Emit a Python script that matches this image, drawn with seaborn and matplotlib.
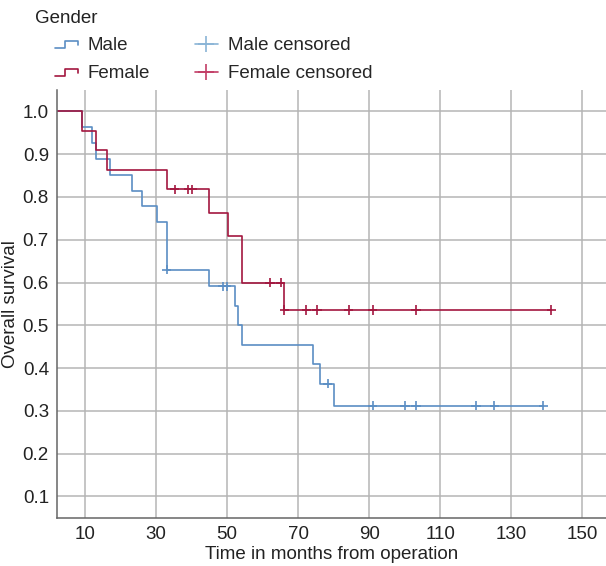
import numpy as np
import pandas as pd
import matplotlib.pyplot as plt
import seaborn as sns
from matplotlib.legend_handler import HandlerBase
from matplotlib.lines import Line2D

# step curves (time in months, survival after each step)
male_times = [0, 9.2, 12.1, 13.1, 17.0, 23.2, 26.1, 30.2, 33.0, 45.0, 52.1, 53.2, 54.1, 74.1, 76.2, 80.2, 139.0]
male_surv = [1.0, 0.963, 0.926, 0.889, 0.852, 0.815, 0.778, 0.741, 0.630, 0.591, 0.545, 0.500, 0.455, 0.409, 0.364, 0.312, 0.312]
female_times = [0, 9.2, 13.1, 16.3, 33.0, 45.0, 50.2, 54.3, 66.1, 141.3]
female_surv = [1.0, 0.955, 0.909, 0.864, 0.818, 0.763, 0.709, 0.600, 0.536, 0.536]

# censored times
male_cens = [33.0, 48.8, 49.9, 78.3, 91.0, 100.1, 103.2, 120.1, 125.2, 139.0]
female_cens = [35.2, 39.1, 40.1, 62.1, 65.1, 66.1, 72.3, 75.3, 84.2, 91.0, 103.2, 141.3]

x_ticks = [10, 30, 50, 70, 90, 110, 130, 150]
y_ticks = [0.1, 0.2, 0.3, 0.4, 0.5, 0.6, 0.7, 0.8, 0.9, 1.0]

male_col = '#5b8ec4'
female_col = '#a3173f'
male_cens_col = '#8ab4d6'
female_cens_col = '#c23d66'

FS = 13.5


def surv_at(times, surv, t):
    i = np.searchsorted(times, t, side='right') - 1
    return np.asarray(surv)[i]


curves = pd.concat([
    pd.DataFrame({'time': male_times, 'survival': male_surv, 'gender': 'Male'}),
    pd.DataFrame({'time': female_times, 'survival': female_surv, 'gender': 'Female'}),
])
cens = pd.concat([
    pd.DataFrame({'time': male_cens, 'survival': surv_at(male_times, male_surv, male_cens), 'gender': 'Male'}),
    pd.DataFrame({'time': female_cens, 'survival': surv_at(female_times, female_surv, female_cens), 'gender': 'Female'}),
])

sns.set_style('white')
plt.rcParams['font.family'] = ['Liberation Sans', 'DejaVu Sans']

fig = plt.figure(figsize=(6.06, 5.66), dpi=100)
ax = fig.add_axes([0.0946, 0.085, 0.905, 0.756])

pal = {'Male': male_col, 'Female': female_col}
sns.lineplot(data=curves, x='time', y='survival', hue='gender', palette=pal,
             drawstyle='steps-post', estimator=None, sort=False, lw=1.2,
             legend=False, ax=ax)
sns.scatterplot(data=cens, x='time', y='survival', hue='gender', palette=pal,
                marker='+', s=45, linewidth=1.2, legend=False, ax=ax, zorder=3)

ax.set_xlim(2.2, 156.6)
ax.set_ylim(0.05, 1.05)
ax.set_xticks(x_ticks)
ax.set_yticks(y_ticks)
ax.set_yticklabels([f'{v:.1f}' for v in y_ticks])
ax.grid(True, color='#b5b5b5', lw=1.1)
ax.set_axisbelow(True)
for s in ['top', 'right']:
    ax.spines[s].set_visible(False)
for s in ['left', 'bottom']:
    ax.spines[s].set_color('#666666')
    ax.spines[s].set_linewidth(1.1)
ax.tick_params(length=0, labelsize=FS, colors='#222222', pad=6)
ax.set_xlabel('Time in months from operation', fontsize=FS, color='#222222', labelpad=2)
ax.set_ylabel('Overall survival', fontsize=FS, color='#222222', labelpad=3)


class StepHandler(HandlerBase):
    def create_artists(self, legend, orig_handle, xdescent, ydescent,
                       width, height, fontsize, trans):
        xs = np.array([0, 0.45, 0.45, 1.0, 1.0]) * width - xdescent
        ys = np.array([0.2, 0.2, 0.7, 0.7, 0.4]) * height - ydescent
        ln = Line2D(xs, ys, color=orig_handle.get_color(), lw=1.2, transform=trans)
        return [ln]


h_male = Line2D([], [], color=male_col)
h_female = Line2D([], [], color=female_col)
h_mc = Line2D([], [], color=male_cens_col, marker='+', markersize=11, lw=1.2, markeredgewidth=1.2)
h_fc = Line2D([], [], color=female_cens_col, marker='+', markersize=11, lw=1.2, markeredgewidth=1.2)

fig.text(0.058, 0.968, 'Gender', fontsize=FS, color='#222222', va='center')
fig.legend([h_male, h_female, h_mc, h_fc],
           ['Male', 'Female', 'Male censored', 'Female censored'],
           handler_map={h_male: StepHandler(), h_female: StepHandler()},
           ncol=2, loc='upper left', bbox_to_anchor=(0.09, 0.934),
           frameon=False, fontsize=FS, handlelength=1.25, handletextpad=0.5,
           columnspacing=2.4, labelspacing=0.58, borderpad=0, borderaxespad=0)

fig.savefig('out.png', dpi=100)
